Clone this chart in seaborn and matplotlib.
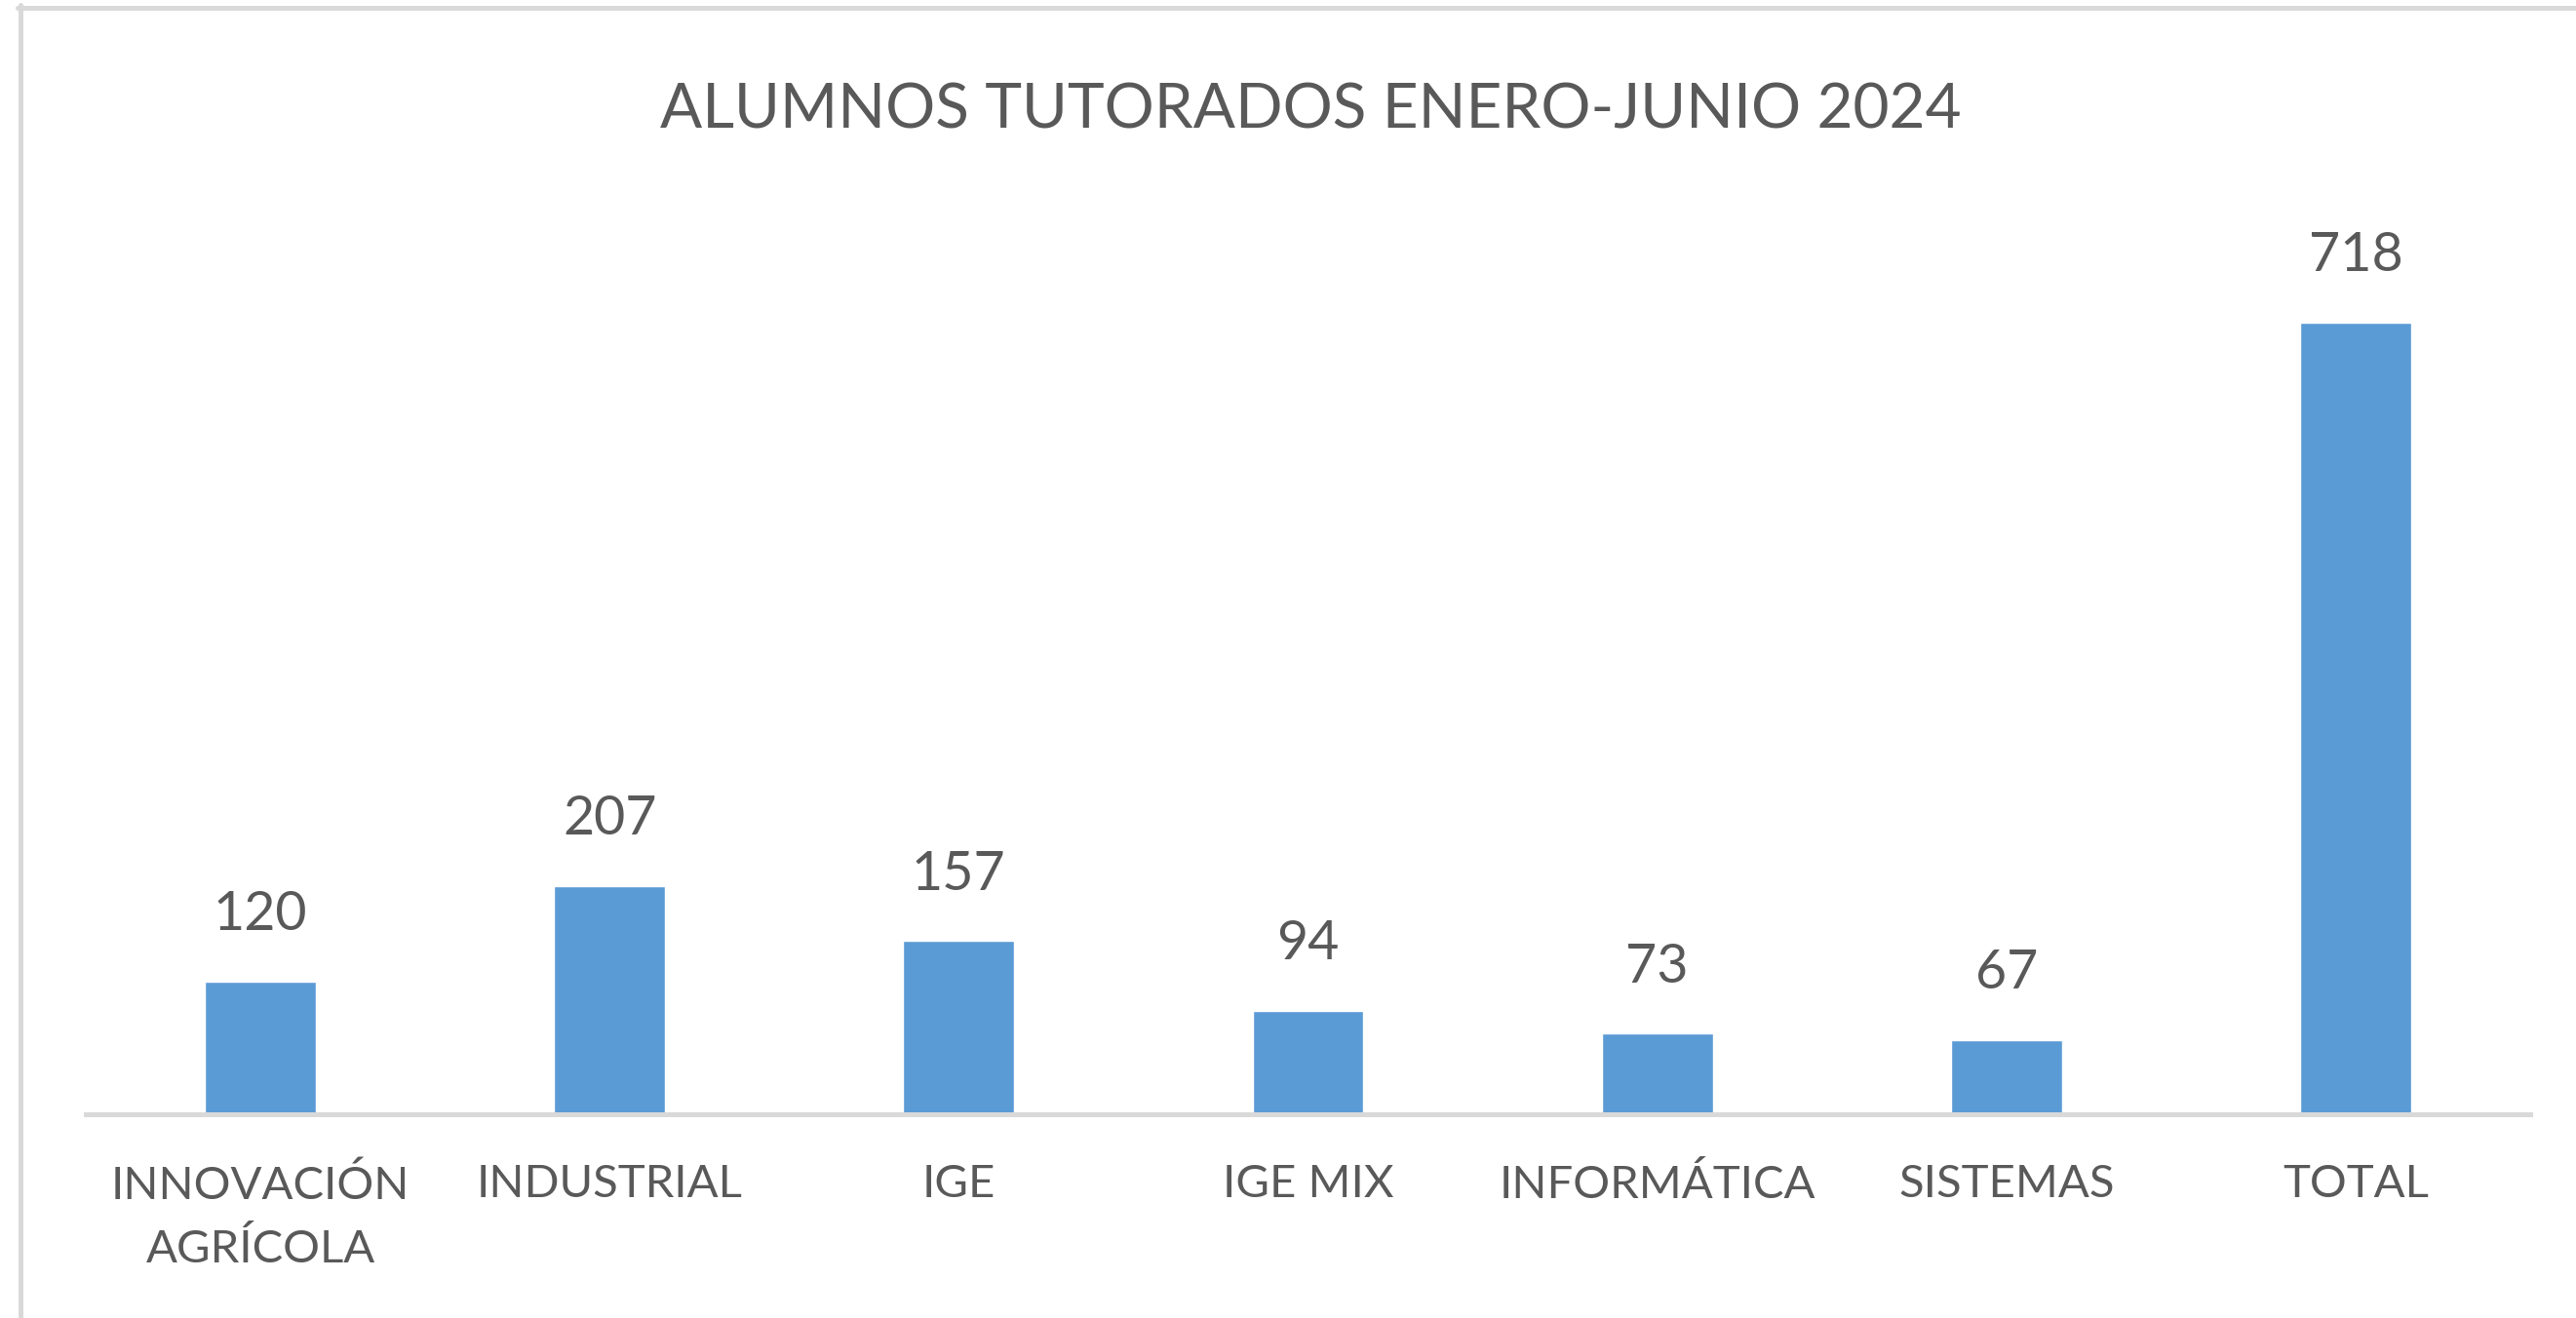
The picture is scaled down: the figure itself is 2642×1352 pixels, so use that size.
import numpy as np
import pandas as pd
import matplotlib
matplotlib.use("Agg")
import matplotlib.pyplot as plt
import seaborn as sns

# data
carreras = ["INNOVACIÓN\nAGRÍCOLA", "INDUSTRIAL", "IGE", "IGE MIX",
            "INFORMÁTICA", "SISTEMAS", "TOTAL"]
alumnos = [120, 207, 157, 94, 73, 67, 718]
titulo = "ALUMNOS TUTORADOS ENERO-JUNIO 2024"

BAR_COLOR = "#5B9BD5"
TEXT_COLOR = "#595959"
LINE_COLOR = "#D9D9D9"


def create_plot(df):
    sns.set_theme(style="white")
    plt.rcParams['font.family'] = ['Lato', 'DejaVu Sans']

    fig = plt.figure(figsize=(26.42, 13.52), dpi=100)
    ax = fig.add_axes([0.0333, 0.1546, 0.9489, 0.6694])

    sns.barplot(data=df, x="carrera", y="alumnos", color=BAR_COLOR,
                width=0.318, saturation=1, ax=ax)

    ax.set_xlim(-0.5, len(df) - 0.5)
    ax.set_ylim(0, 800)

    for i, v in enumerate(df["alumnos"]):
        ax.annotate(str(v), (i, v), xytext=(0, 38), textcoords="offset points",
                    ha="center", va="baseline", fontsize=40, color=TEXT_COLOR)

    for side in ["top", "right", "left"]:
        ax.spines[side].set_visible(False)
    ax.spines["bottom"].set_color(LINE_COLOR)
    ax.spines["bottom"].set_linewidth(3.6)

    ax.set_yticks([])
    ax.set_xlabel("")
    ax.set_ylabel("")
    ax.tick_params(axis="x", length=0, pad=37, labelsize=34, colors=TEXT_COLOR)
    for lbl in ax.get_xticklabels():
        lbl.set_multialignment("center")
        lbl.set_linespacing(1.62)

    fig.text(0.509, 0.916, titulo, ha="center", va="center",
             fontsize=46, color=TEXT_COLOR)

    # chart area border (only top and left edges are visible)
    fig.add_artist(plt.Line2D([20.5 / 2642, 20.5 / 2642], [0, 1 - 5 / 1352],
                              transform=fig.transFigure, color=LINE_COLOR, lw=3.6))
    fig.add_artist(plt.Line2D([18 / 2642, 1], [1 - 8 / 1352, 1 - 8 / 1352],
                              transform=fig.transFigure, color=LINE_COLOR, lw=3.6))
    return fig


def main():
    df = pd.DataFrame({"carrera": carreras, "alumnos": alumnos})
    fig = create_plot(df)
    fig.savefig("out.png", dpi=100, facecolor="white")


if __name__ == "__main__":
    main()
